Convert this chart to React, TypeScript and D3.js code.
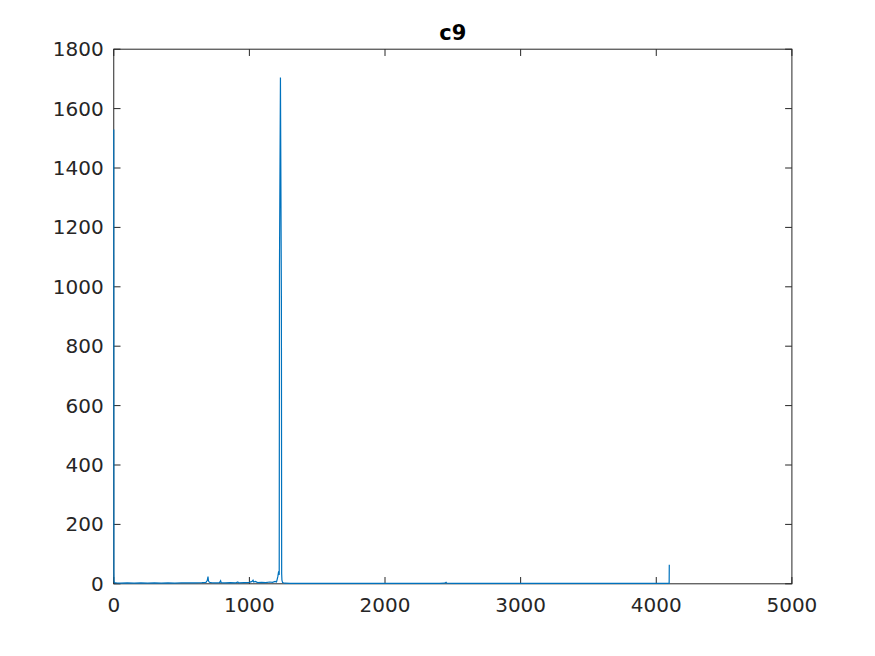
import React from "react";
import * as d3 from "d3";

const xTicks = [0, 1000, 2000, 3000, 4000, 5000];
const yTicks = [0, 200, 400, 600, 800, 1000, 1200, 1400, 1600, 1800];

const sampleIndex = [
  0, 1, 2, 5, 20, 50, 100, 150, 200, 250, 300, 350, 400, 450, 500, 550, 600, 650, 680, 690, 695, 698, 705, 720, 750,
  780, 788, 792, 820, 860, 900, 915, 920, 960, 1000, 1020, 1027, 1032, 1045, 1060, 1090, 1120, 1150, 1170, 1190,
  1200, 1205, 1210, 1215, 1218, 1220, 1222, 1229, 1236, 1238, 1240, 1245, 1260, 1300, 1400, 1600, 1800, 2000, 2200,
  2400, 2440, 2450, 2455, 2500, 2800, 3200, 3600, 4000, 4090, 4095, 4096,
];
const magnitude = [
  1530, 40, 8, 4, 3, 2, 3, 2, 3, 2, 3, 2, 3, 2, 3, 3, 3, 4, 5, 12, 24, 10, 5, 4, 3,
  4, 10, 4, 3, 4, 3, 6, 3, 4, 5, 8, 12, 6, 8, 4, 5, 4, 6, 5, 8,
  6, 15, 25, 40, 42, 30, 1068, 1705, 960, 35, 12, 4, 2, 1.5, 1.5, 1.5, 1.5, 1.5, 1.5,
  1.5, 2, 5, 2, 1.5, 1.5, 1.5, 1.5, 1.5, 1.5, 2, 64,
];

const W = 875;
const H = 656;
const left = 113.75;
const right = 791.9;
const top = 49.2;
const bottom = 583.8;
const axisColor = "#262626";
const lineColor = "#0072BD";
const font = "'DejaVu Sans', sans-serif";
const tickLen = 6.78;

export default function App() {
  const x = d3.scaleLinear().domain([0, 5000]).range([left, right]);
  const y = d3.scaleLinear().domain([0, 1800]).range([bottom, top]);
  const pts: [number, number][] = sampleIndex.map((v, i) => [v, magnitude[i]]);
  const line = d3
    .line<[number, number]>()
    .x((d) => x(d[0]))
    .y((d) => y(d[1]));

  return (
    <svg width={W} height={H} style={{ position: "absolute", left: 0, top: 0, background: "#fff" }}>
      <rect x={0} y={0} width={W} height={H} fill="#fff" />
      <rect x={left} y={top} width={right - left} height={bottom - top} fill="none" stroke={axisColor} strokeWidth={1} />
      {xTicks.map((t) => (
        <g key={"x" + t}>
          <line x1={x(t)} x2={x(t)} y1={bottom} y2={bottom - tickLen} stroke={axisColor} />
          <line x1={x(t)} x2={x(t)} y1={top} y2={top + tickLen} stroke={axisColor} />
          <text x={x(t)} y={bottom + 28} textAnchor="middle" fontFamily={font} fontSize={20} fill={axisColor}>
            {t}
          </text>
        </g>
      ))}
      {yTicks.map((t) => (
        <g key={"y" + t}>
          <line x1={left} x2={left + tickLen} y1={y(t)} y2={y(t)} stroke={axisColor} />
          <line x1={right} x2={right - tickLen} y1={y(t)} y2={y(t)} stroke={axisColor} />
          <text x={left - 10} y={y(t) + 7} textAnchor="end" fontFamily={font} fontSize={20} fill={axisColor}>
            {t}
          </text>
        </g>
      ))}
      <path d={line(pts) || ""} fill="none" stroke={lineColor} strokeWidth={1.2} />
      <text x={(left + right) / 2} y={top - 9} textAnchor="middle" fontFamily={font} fontSize={21} fontWeight="bold" fill="#000">
        c9
      </text>
    </svg>
  );
}
